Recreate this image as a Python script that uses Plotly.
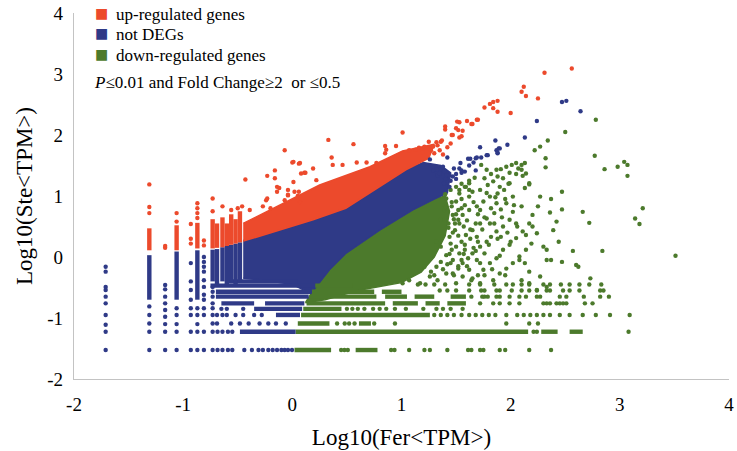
import plotly.graph_objects as go

RED = "#EC4A2C"
BLUE = "#2F3A87"
GREEN = "#4C7A2C"
SERIF = "Liberation Serif, Times New Roman, serif"

# ---- dense cores of the three clouds (outline) ----
up_core_x = [-0.45, -0.21, 0.19, 0.49, 0.80, 1.04, 1.25, 1.30, 1.01, 0.71, 0.25, -0.21, -0.45]
up_core_y = [0.26, 0.39, 0.61, 0.80, 1.15, 1.43, 1.62, 1.85, 1.74, 1.48, 1.18, 0.76, 0.55]

not_core_x = [-0.45, -0.21, 0.19, 0.49, 0.80, 1.04, 1.20, 1.36, 1.45, 1.42, 1.30, 1.10, 0.80, 0.49, 0.34,
              0.19, 0.17, 0.00, -0.25, -0.45]
not_core_y = [0.27, 0.39, 0.61, 0.80, 1.15, 1.43, 1.55, 1.50, 1.38, 1.05, 0.95, 0.77, 0.44, 0.06, -0.21,
              -0.55, -0.60, -0.45, -0.38, -0.35]

down_core_x = [0.12, 0.19, 0.34, 0.49, 0.80, 1.10, 1.30, 1.40, 1.44, 1.40, 1.30, 1.18, 1.00, 0.60, 0.30, 0.12]
down_core_y = [-0.75, -0.55, -0.21, 0.06, 0.44, 0.77, 0.95, 1.00, 0.75, 0.35, 0.00, -0.25, -0.42, -0.55, -0.70, -0.75]

# ---- stripes from quantised TPM values ----
# vertical: (x, y_from, y_to)
up_cols = [(-1.31, 0.11, 0.47), (-1.06, 0.11, 0.52), (-0.87, 0.14, 0.56), (-0.73, 0.14, 0.62),
           (-0.69, 0.15, 0.55), (-0.64, 0.16, 0.65), (-0.60, 0.18, 0.55), (-0.56, 0.20, 0.70),
           (-0.52, 0.22, 0.62), (-0.48, 0.24, 0.75)]
not_cols = [(-1.31, -0.70, 0.03), (-1.06, -0.70, 0.09), (-0.87, -0.70, 0.11), (-0.73, -0.40, 0.12),
            (-0.69, -0.45, 0.13), (-0.64, -0.40, 0.16), (-0.60, -0.45, 0.18), (-0.56, -0.40, 0.20),
            (-0.52, -0.45, 0.22), (-0.48, -0.40, 0.24)]
# horizontal: (y, x_from, x_to)
not_rows = [(-1.225, -0.48, 0.03), (-0.95, -0.15, 0.07), (-0.85, -0.35, 0.09), (-0.76, -0.65, -0.35),
            (-0.76, -0.25, 0.11), (-0.65, -0.70, 0.15), (-0.57, -0.70, 0.17), (-0.47, -0.75, 0.20),
            (-0.40, -0.60, 0.05)]
down_rows = [(-1.525, 0.02, 0.355), (-1.525, 0.58, 0.78), (-1.225, 0.03, 2.16), (-1.225, 2.28, 2.43),
             (-1.225, 2.54, 2.66), (-1.09, 0.05, 0.34), (-1.09, 0.61, 0.72), (-0.95, 0.08, 1.26),
             (-0.85, 0.10, 0.45), (-0.76, 0.13, 0.85), (-0.76, 0.92, 1.15), (-0.76, 1.22, 1.35),
             (-0.76, 1.42, 1.59), (-0.65, 0.17, 0.77), (-0.65, 0.85, 1.05), (-0.65, 1.12, 1.30),
             (-0.65, 1.45, 1.59), (-0.57, 0.18, 0.75), (-0.57, 0.82, 1.00), (-0.47, 0.21, 0.55)]

# ---- single dots on the stripes ----
not_col_dots = {
    -1.71: [-0.16, -0.24, -0.49, -0.54, -0.65, -0.76, -0.95, -1.11, -1.225, -1.525],
    -1.31: [-0.81, -0.95, -1.09, -1.225, -1.525],
    -1.165: [-0.46, -0.53, -0.65, -0.76, -0.87, -0.98, -1.10, -1.225, -1.525],
    -1.06: [-0.84, -0.95, -1.10, -1.225, -1.525],
    -0.93: [-0.10, -0.40, -0.54, -0.70, -0.84, -0.95, -1.225, -1.525],
    -0.87: [-0.84, -0.95, -1.10, -1.225, -1.525],
    -0.81: [0.0, -0.08, -0.16, -0.24, -0.38, -0.49, -0.62, -0.70, -0.84, -0.95, -1.225, -1.525],
    -0.73: [-0.49, -0.57, -0.65, -0.76, -0.84, -0.95, -1.09, -1.225, -1.525],
}
not_row_dots = {
    -1.525: [-0.685, -0.64, -0.59, -0.55, -0.44, -0.37, -0.31, -0.27, -0.22, -0.18, -0.14, -0.10, -0.07, -0.04, -0.003],
    -1.225: [-0.685, -0.64, -0.59, -0.55],
    -1.09: [-0.69, -0.56, -0.48, -0.40, -0.30, -0.22, -0.15, -0.06],
    -0.95: [-0.69, -0.64, -0.60, -0.52, -0.45, -0.35, -0.28],
    -0.85: [-0.65, -0.60, -0.45],
}
down_row_dots = {
    -1.525: [0.447, 0.477, 0.508, 0.905, 0.936, 1.07, 1.21, 1.26, 1.42, 1.61, 1.64, 1.72, 1.75, 1.90, 1.95, 2.17, 2.37],
    -1.225: [2.21, 2.24, 3.08],
    -1.09: [0.41, 0.48, 0.52, 0.57, 0.75, 0.94, 1.96, 2.17, 2.25],
    -0.95: [1.30, 1.36, 1.42, 1.48, 1.55, 1.62, 1.68, 1.74, 1.80, 1.86, 1.96, 2.06, 2.12, 2.18, 2.24,
            2.30, 2.36, 2.45, 2.54, 2.66, 2.78, 2.91, 3.09],
    -0.85: [0.50, 0.55, 0.60, 0.66, 0.74, 0.80, 0.86, 0.94, 1.04, 1.20, 1.32, 1.38, 1.45, 1.56],
    -0.76: [1.72, 1.84, 1.90, 1.99, 2.08, 2.30, 2.33, 2.36, 2.42, 2.45, 2.48, 2.51, 2.68, 2.75],
    -0.65: [1.64, 1.74, 1.76, 1.79, 1.87, 1.90, 1.99, 2.08, 2.14, 2.24, 2.27, 2.45, 2.51, 2.67, 2.82, 2.90],
    -0.55: [1.35, 1.42, 1.50, 1.62, 1.73, 1.76, 1.87, 1.90, 2.01, 2.10, 2.17, 2.24, 2.33, 2.36, 2.48,
            2.54, 2.63, 2.82, 2.85],
    -0.45: [1.15, 1.22, 1.30, 1.40, 1.62, 1.72, 1.85, 1.96, 2.02, 2.10, 2.17, 2.30, 2.36, 2.46, 2.54,
            2.63, 2.72, 2.83],
}

# ---- scattered genes ----
up_x = [-1.31, -1.31, -1.31, -1.165, -1.165, -1.06, -1.06, -0.93, -0.93, -0.93, -0.87, -0.87, -0.87, -0.87,
        -0.81, -0.81, -0.73, -0.73, -0.64, -0.56, -0.50, -0.46, -0.39, -0.43, -0.24, -0.23, -0.27, -0.20,
        -0.23, -0.16, -0.16, -0.14, -0.14, -0.04, -0.04, -0.07, 0.01, 0.06, 0.01, 0.06, 0.05, -0.12, -0.04,
        -0.07, 0.02, 0.07, 0.00, 0.07, 0.11, 0.08, 0.19, 0.12, 0.22, 0.33, 0.36, 0.46, 0.56, 0.37, 0.59,
        0.68, 0.77, 0.85, 0.95, 0.85, 0.86, 1.01, 1.07, 1.13, 1.16, 1.19, 1.25, 1.27, 1.33, 1.36, 1.21,
        1.29, 1.32, 1.37, 1.46, 1.52, 1.55, 1.64, 1.69, 1.51, 1.40, 1.40, 1.47, 1.50, 1.53, 1.56, 1.53,
        1.60, 1.65, 1.70, 1.76, 1.81, 1.84, 1.88, 1.84, 1.88, 2.00, 2.10, 2.12, 2.14, 2.25, 2.31, 2.56,
        1.30, 1.35, 1.42, 1.45, 1.38]
up_y = [1.19, 0.82, 0.72, 0.18, 0.15, 0.72, 0.58, 0.54, 0.22, 0.30, 0.88, 0.80, 0.72, 0.64,
        0.27, 0.19, 0.96, 0.75, 0.83, 0.77, 0.80, 0.83, 0.77, 1.27, 0.93, 0.96, 0.83, 0.80,
        1.33, 1.42, 1.29, 1.15, 1.07, 1.10, 1.01, 1.75, 1.56, 1.53, 1.23, 1.07, 1.00, 1.13, 1.02,
        0.93, 1.07, 0.90, 1.55, 1.54, 1.38, 1.37, 1.45, 1.38, 1.26, 1.92, 1.63, 1.51, 1.85, 1.51, 1.55,
        1.55, 1.54, 1.70, 1.82, 1.82, 1.76, 2.04, 1.75, 1.76, 1.79, 1.72, 1.89, 1.75, 1.83, 1.89, 1.81,
        1.81, 1.88, 1.91, 2.00, 2.08, 1.98, 2.18, 2.25, 2.22, 2.14, 2.09, 2.00, 2.11, 1.96, 2.07, 2.21,
        2.23, 2.18, 2.25, 2.45, 2.51, 2.54, 2.56, 2.44, 2.38, 2.36, 2.71, 2.79, 2.64, 2.60, 3.02, 3.09,
        1.70, 1.75, 1.80, 1.86, 1.68]

not_x = [2.47, 2.51, 2.64, 2.24, 2.13, 1.97, 1.89, 1.87, 1.88, 1.86, 1.72, 1.79, 1.73, 1.68, 1.61, 1.42,
         1.26, 1.68, 1.53, 1.55, 1.50, 1.47, 1.44, 1.36, 1.39, 1.33, 1.32, 1.90, 1.88, 1.63, 1.69, 1.78,
         1.54, 1.48, 1.55, 1.41, 1.35, 1.29, 1.38, 1.44, 1.39, 1.40, 1.45, 1.50, 1.58, 1.62, 1.66]
not_y = [2.54, 2.56, 2.39, 2.23, 1.96, 1.84, 1.78, 1.75, 1.70, 1.91, 1.80, 1.67, 1.63, 1.62, 1.61, 1.63,
         1.60, 1.42, 1.45, 1.38, 1.36, 1.32, 1.34, 1.45, 1.40, 1.34, 1.43, 1.78, 1.71, 1.61, 1.63, 1.67,
         1.54, 1.45, 1.42, 1.34, 1.37, 1.42, 1.48, 1.15, 1.21, 1.28, 1.25, 1.28, 1.40, 1.50, 1.55]

down_x = [1.73, 1.78, 1.82, 1.87, 1.91, 1.96, 2.01, 2.05, 2.10, 2.13, 1.99, 2.05, 2.11, 2.07, 1.88, 1.93,
          1.84, 1.79, 1.72, 1.65, 1.62, 1.59, 1.76, 1.99, 1.94, 1.88, 1.81, 1.75, 1.69, 1.62, 1.56, 1.52,
          1.49, 2.14, 2.17, 2.13, 2.02, 1.96, 1.91, 1.85, 1.78, 1.72, 1.65, 1.59, 1.55, 1.50, 1.46, 1.41,
          1.36, 1.32, 1.27, 2.02, 1.99, 1.93, 1.87, 1.82, 1.78, 1.72, 1.65, 1.61, 1.56, 1.52, 1.47, 2.17,
          2.11, 2.05, 1.99, 1.93, 1.87, 1.81, 1.75, 1.70, 1.64, 2.27, 2.25, 2.20, 2.24, 2.19, 2.14, 2.08,
          2.02, 1.96, 1.90, 1.84, 2.37, 2.36, 2.42, 2.39, 2.30, 2.33, 2.44, 2.37, 2.33, 2.47, 2.20, 2.14,
          2.13, 2.17, 2.10, 2.27, 2.33, 2.24, 2.17, 2.47, 2.47, 2.66, 2.72, 2.84, 2.57, 2.60, 2.62, 2.73,
          3.14, 3.18, 3.21, 3.51, 2.78, 2.77, 2.86, 2.98, 3.04, 3.07, 3.07, 2.50, 2.34, 2.27, 2.22, 2.32,
          2.32, 2.17, 2.10, 1.46, 1.50, 1.41, 1.39, 1.44, 1.36, 1.41, 1.33, 1.26, 1.21, 1.32, 1.49, 1.53,
          1.43, 1.47, 1.36, 1.53, 1.47, 1.58, 1.69, 1.69, 1.76, 1.62, 1.56, 1.72, 1.50, 1.17, 1.07, 1.01,
          1.81, 1.91, 2.05, 2.10, 1.87, 1.62, 1.53, 1.52, 1.72, 1.45, 1.50, 1.55, 1.40, 1.62, 1.67,
          1.55, 1.58, 1.60, 1.57, 1.63, 1.58, 1.55, 1.60, 1.66, 1.70, 1.74, 1.68, 1.72, 1.78, 1.82, 1.85,
          1.80, 1.83, 1.90, 1.95, 1.92, 1.97, 1.90, 1.95, 2.03, 2.06, 2.00, 2.08, 1.52, 1.50, 1.55, 1.62,
          1.66, 1.70, 1.76, 1.88, 1.58, 1.53, 1.65, 1.48, 1.52, 1.45, 1.38, 1.30, 1.57, 1.63, 1.68, 1.76,
          1.86, 1.98, 1.46, 1.48, 1.47, 1.45, 1.44, 1.42, 1.43, 1.40]
down_y = [1.51, 1.43, 1.36, 1.43, 1.44, 1.48, 1.51, 1.54, 1.51, 1.54, 1.38, 1.36, 1.33, 1.45, 1.32, 1.29,
          1.24, 1.18, 1.10, 1.07, 1.21, 1.15, 1.29, 1.21, 1.10, 1.04, 0.99, 0.91, 0.83, 0.77, 0.69, 0.61,
          0.55, 1.37, 1.21, 1.13, 0.99, 0.88, 0.78, 0.72, 0.63, 0.55, 0.44, 0.36, 0.25, 0.17, 0.12, 0.03,
          -0.08, -0.16, -0.24, 0.74, 0.61, 0.50, 0.42, 0.33, 0.25, 0.17, 0.06, -0.02, -0.10, -0.19, -0.27, 0.55,
          0.42, 0.31, 0.20, 0.12, -0.02, -0.10, -0.21, -0.30, -0.38, 0.99, 0.83, 0.69, 0.39, 0.22, 0.12, 0.01,
          -0.10, -0.19, -0.27, -0.38, 0.95, 0.73, 0.58, 0.44, 0.17, 0.12, 0.25, -0.05, -0.05, -0.08, 0.50, 0.36,
          -0.10, -0.24, -0.38, -0.32, -0.49, -0.54, -0.43, 1.07, 0.78, 0.74, 0.56, 0.10, 0.10, -0.13, -0.16, -0.35,
          0.63, 0.54, 0.80, 0.02, 2.25, 1.66, 1.44, 1.48, 1.56, 1.51, 1.33, 2.05, 1.91, 1.81, 1.75, 1.62,
          1.47, 1.19, 1.43, 0.83, 0.91, 0.96, 0.77, 0.33, 0.17, -0.27, -0.38, -0.32, -0.16, 0.25, 0.44, 0.55,
          0.55, 0.69, 0.61, 0.06, -0.05, 0.12, 0.33, -0.05, 0.06, -0.21, -0.32, -0.43, -0.43, -0.43, -0.38, -0.43,
          0.55, 0.33, 0.55, 0.83, 0.88, 0.99, 1.04, 0.77, 0.77, 1.10, 1.15, 1.20, 1.03, 1.25, 1.30,
          0.95, 0.85, 0.60, 0.50, 0.30, 0.20, -0.05, -0.15, 0.90, 0.70, 0.45, 0.10, -0.10, 1.05, 0.80, 0.55,
          0.20, -0.20, 1.15, 0.95, 0.65, 0.40, 0.02, -0.30, 0.85, 0.50, 0.25, -0.05, 0.35, 0.70, 0.80, 1.10,
          0.15, 0.25, -0.30, 0.30, 1.15, 1.10, -0.35, -0.30, -0.15, -0.10, -0.20, -0.30, 0.05, 0.45, 0.55, 0.65,
          0.98, 1.20, 0.90, 0.62, 0.40, 0.22, 0.05, -0.12, 0.48, 0.82]

x_ticks = [-2, -1, 0, 1, 2, 3, 4]
y_ticks = [-2, -1, 0, 1, 2, 3, 4]
tick_text = ["-2", "-1", "0", "1", "2", "3", "4"]   # plain hyphen, as in the reference
legend_names = ["up-regulated genes", "not DEGs", "down-regulated genes"]
note = "<i>P</i>≤0.01 and Fold Change≥2  or ≤0.5"


def vsegs(cols):
    xs, ys = [], []
    for x, y0, y1 in cols:
        xs += [x, x, None]
        ys += [y0, y1, None]
    return xs, ys


def hsegs(rows):
    xs, ys = [], []
    for y, x0, x1 in rows:
        xs += [x0, x1, None]
        ys += [y, y, None]
    return xs, ys


def col_dots(d):
    xs, ys = [], []
    for x, yl in d.items():
        xs += [x] * len(yl)
        ys += yl
    return xs, ys


def row_dots(d):
    xs, ys = [], []
    for y, xl in d.items():
        xs += xl
        ys += [y] * len(xl)
    return xs, ys


fig = go.Figure()
MS = 4.4

# dense cores
for cx, cy, c in [(down_core_x, down_core_y, GREEN), (not_core_x, not_core_y, BLUE), (up_core_x, up_core_y, RED)]:
    fig.add_trace(go.Scatter(x=cx, y=cy, fill="toself", fillcolor=c, mode="lines",
                             line=dict(width=1.5, color=c), showlegend=False, hoverinfo="skip"))

# stripes
for (sx, sy), c in [(hsegs(down_rows), GREEN), (hsegs(not_rows), BLUE),
                    (vsegs(not_cols), BLUE), (vsegs(up_cols), RED)]:
    fig.add_trace(go.Scatter(x=sx, y=sy, mode="lines", line=dict(width=MS, color=c),
                             showlegend=False, hoverinfo="skip"))

# dots
nx, ny = col_dots(not_col_dots)
rx, ry = row_dots(not_row_dots)
gx, gy = row_dots(down_row_dots)
for px, py, c, name in [(gx + down_x, gy + down_y, GREEN, legend_names[2]),
                        (nx + rx + not_x, ny + ry + not_y, BLUE, legend_names[1]),
                        (up_x, up_y, RED, legend_names[0])]:
    fig.add_trace(go.Scatter(x=px, y=py, mode="markers", name=name, marker=dict(size=MS, color=c),
                             showlegend=False))

# key in the top-left corner, written as text so its rows sit exactly where the reference has them
legend_rows_y = [0.997, 0.940, 0.883]
for name, c, yy in zip(legend_names, [RED, BLUE, GREEN], legend_rows_y):
    fig.add_annotation(text="■", xref="paper", yref="paper", x=0.042, y=yy + 0.004,
                       xanchor="center", yanchor="middle", showarrow=False,
                       font=dict(family="DejaVu Sans", size=14, color=c))
    fig.add_annotation(text=name, xref="paper", yref="paper", x=0.061, y=yy,
                       xanchor="left", yanchor="middle", showarrow=False,
                       font=dict(family=SERIF, size=17, color="black"))

fig.add_annotation(text=note, xref="paper", yref="paper", x=0.028, y=0.81,
                   xanchor="left", yanchor="middle", showarrow=False,
                   font=dict(family=SERIF, size=17, color="black"))

axis_common = dict(range=[-2, 4], showgrid=False, zeroline=False, showline=True,
                   linecolor="#c3c3c3", linewidth=1.2, ticks="", automargin=False,
                   tickfont=dict(family=SERIF, size=19, color="black"))
fig.update_xaxes(**axis_common, tickvals=x_ticks, ticktext=tick_text, ticklabelstandoff=8,
                 title=dict(text="Log10(Fer&lt;TPM&gt;)", standoff=14,
                            font=dict(family=SERIF, size=23, color="black")))
fig.update_yaxes(**axis_common, tickvals=y_ticks, ticktext=tick_text, ticklabelstandoff=6,
                 title=dict(text="Log10(Ste&lt;TPM&gt;)", standoff=8,
                            font=dict(family=SERIF, size=23, color="black")))

fig.update_layout(
    width=737, height=451,
    margin=dict(l=74, r=8, t=13, b=72),
    plot_bgcolor="white", paper_bgcolor="white",
    showlegend=False,
)

# the page body has a default 8px margin; drop it so the figure fills the window
fig.write_html("out.html", config={"displayModeBar": False},
               post_script="document.body.style.margin = '0';")
